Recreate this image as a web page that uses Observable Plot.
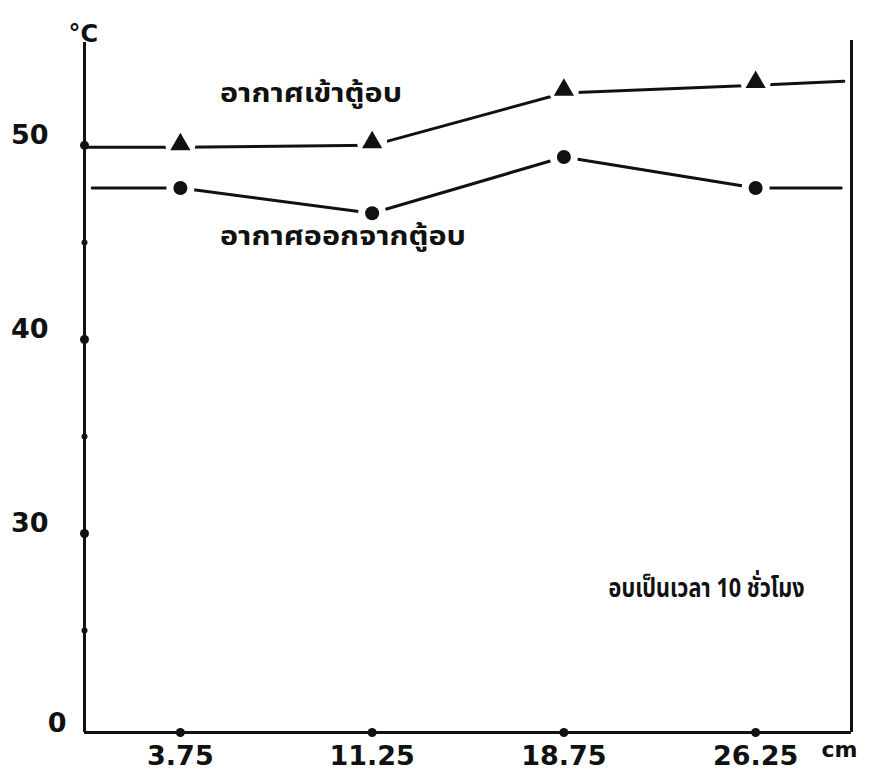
<!DOCTYPE html>
<html>
<head>
<meta charset="utf-8">
<script src="https://cdn.jsdelivr.net/npm/d3@7"></script>
<script src="https://cdn.jsdelivr.net/npm/@observablehq/plot@0.6"></script>
<style>
  body { margin: 0; background: #fff; }
  #chart svg { display: block; }
</style>
</head>
<body>
<div id="chart"></div>
<script>
// Measurement positions (cm) and temperatures (°C)
const positions = [3.75, 11.25, 18.75, 26.25];
const airInValues = [49.9, 50.0, 52.7, 53.1];   // อากาศเข้าตู้อบ (triangles)
const airOutValues = [47.8, 46.5, 49.4, 47.8];  // อากาศออกจากตู้อบ (circles)

// Hand-drawn lines run from the left axis to the right frame
const airInLineX = [0, 3.75, 11.25, 18.75, 26.25, 29.7];
const airInLineY = [49.9, 49.9, 50.0, 52.7, 53.1, 53.3];
const airOutLineX = [0.3, 3.75, 11.25, 18.75, 26.25, 29.6];
const airOutLineY = [47.8, 47.8, 46.5, 49.4, 47.8, 47.8];

// Axis (broken y axis: bottom labelled 0)
const xMin = 0, xMax = 30;
const yMin = 19.75, yMax = 55.3;
const yMajorTicks = [30, 40, 50];
const yMinorTicks = [25, 35, 45];
const yBottomLabel = "0";
const yUnit = "°C";
const xUnit = "cm";

// Annotations
const labelAirIn = "อากาศเข้าตู้อบ";
const labelAirOut = "อากาศออกจากตู้อบ";
const labelDuration = "อบเป็นเวลา 10 ชั่วโมง";
const annotations = [
  {x: 5.3, y: 52.7, text: labelAirIn, width: 182},
  {x: 5.3, y: 45.3, text: labelAirOut, width: 246},
  {x: 20.5, y: 27.2, text: labelDuration, width: 196}
];

const inLine = airInLineX.map((x, i) => ({x, y: airInLineY[i]}));
const outLine = airOutLineX.map((x, i) => ({x, y: airOutLineY[i]}));
const inPts = positions.map((x, i) => ({x, y: airInValues[i]}));
const outPts = positions.map((x, i) => ({x, y: airOutValues[i]}));

const numFont = "DejaVu Sans, Liberation Sans, sans-serif";
const thaiFont = "Noto Sans Thai, Loma, Garuda, Tlwg Typo, DejaVu Sans, sans-serif";

const chart = Plot.plot({
  width: 882,
  height: 778,
  marginLeft: 84,
  marginRight: 31,
  marginTop: 42,
  marginBottom: 46,
  style: {background: "#fff", color: "#111"},
  x: {domain: [xMin, xMax], label: null},
  y: {domain: [yMin, yMax], label: null},
  marks: [
    // frame: left axis, right border, bottom axis
    Plot.ruleX([xMin], {y1: yMin, y2: yMax, stroke: "#111", strokeWidth: 3}),
    Plot.ruleX([xMax], {y1: yMin, y2: yMax + 0.1, stroke: "#111", strokeWidth: 3}),
    Plot.ruleY([yMin], {x1: xMin, x2: xMax, stroke: "#111", strokeWidth: 3}),
    // tick blobs
    Plot.dot(yMajorTicks, {x: () => xMin, y: d => d, r: 4.5, fill: "#111"}),
    Plot.dot(yMinorTicks, {x: () => xMin, y: d => d, r: 3, fill: "#111"}),
    Plot.dot(positions, {x: d => d, y: () => yMin, r: 4.5, fill: "#111"}),
    // axes labels
    Plot.axisY(yMajorTicks, {label: null, tickSize: 0, tickPadding: 36, fontSize: 27, fontWeight: "bold", fontFamily: numFont, dy: -10}),
    Plot.text([yBottomLabel], {x: () => xMin, y: () => yMin, text: d => d, textAnchor: "end", dx: -18, dy: -9, fontSize: 27, fontWeight: "bold", fontFamily: numFont}),
    Plot.axisX(positions, {label: null, tickSize: 0, tickPadding: 13, fontSize: 27, fontWeight: "bold", fontFamily: numFont, tickFormat: d => String(d)}),
    Plot.text([yUnit], {frameAnchor: "top-left", text: d => d, dx: -16, dy: -18, fontSize: 24, fontWeight: "bold", fontFamily: numFont}),
    Plot.text([xUnit], {frameAnchor: "bottom-right", text: d => d, dx: 6, dy: 24, fontSize: 22, fontWeight: "bold", fontFamily: numFont}),
    // series lines
    Plot.line(inLine, {x: "x", y: "y", stroke: "#111", strokeWidth: 3}),
    Plot.line(outLine, {x: "x", y: "y", stroke: "#111", strokeWidth: 3}),
    // white gaps around markers (hand-drawn look)
    Plot.dot(inPts, {x: "x", y: "y", r: 15, fill: "#fff", dy: -3}),
    Plot.dot(outPts, {x: "x", y: "y", r: 14, fill: "#fff"}),
    // markers
    Plot.dot(inPts, {x: "x", y: "y", symbol: "triangle", r: 7.5, fill: "#111", dy: -3}),
    Plot.dot(outPts, {x: "x", y: "y", symbol: "circle", r: 7, fill: "#111"}),
    // annotations
    Plot.text(annotations, {x: "x", y: "y", text: "text", textAnchor: "start", fontSize: 27, fontWeight: "bold", fontFamily: thaiFont, fill: "#111", className: "annot"})
  ]
});
// fit annotation widths to the hand-lettered reference
d3.select(chart).selectAll(".annot text").each(function(_, i) {
  d3.select(this).attr("textLength", annotations[i].width).attr("lengthAdjust", "spacingAndGlyphs");
});
document.getElementById("chart").append(chart);
</script>
</body>
</html>
